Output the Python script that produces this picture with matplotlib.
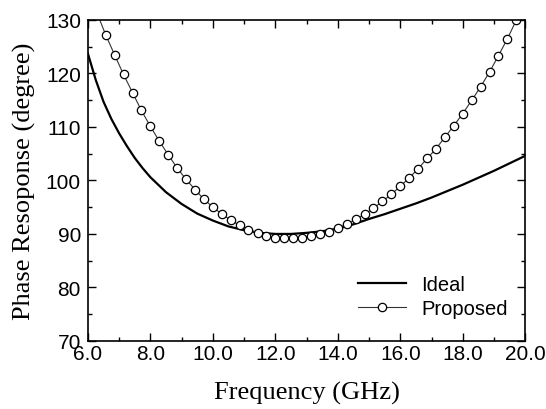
import matplotlib
matplotlib.use("Agg")
import matplotlib.pyplot as plt
from matplotlib.ticker import MultipleLocator, FormatStrFormatter

# ============================================================================
# DATA
# ============================================================================

# Ideal phase response
ideal_freq = [6.0, 6.25, 6.5, 6.75, 7.0, 7.25, 7.5, 7.75, 8.0, 8.5, 9.0, 9.5,
              10.0, 10.5, 11.0, 11.5, 12.0, 12.5, 13.0, 13.5, 14.0, 14.5,
              15.0, 15.5, 16.0, 16.5, 17.0, 17.5, 18.0, 18.5, 19.0, 19.5,
              20.0]
ideal_phase = [123.7, 118.8, 114.7, 111.5, 108.8, 106.4, 104.2, 102.3, 100.6,
               97.8, 95.6, 93.8, 92.5, 91.4, 90.7, 90.2, 90.0, 90.0, 90.2,
               90.5, 91.0, 91.8, 92.8, 93.7, 94.7, 95.7, 96.8, 98.0, 99.2,
               100.5, 101.8, 103.2, 104.6]

# Proposed phase response (markers)
prop_freq = [6.00, 6.29, 6.57, 6.86, 7.14, 7.43, 7.71, 8.00, 8.29, 8.57,
             8.86, 9.14, 9.43, 9.71, 10.00, 10.29, 10.57, 10.86, 11.14, 11.43,
             11.71, 12.00, 12.29, 12.57, 12.86, 13.14, 13.43, 13.71, 14.00,
             14.29, 14.57, 14.86, 15.14, 15.43, 15.71, 16.00, 16.29, 16.57,
             16.86, 17.14, 17.43, 17.71, 18.00, 18.29, 18.57, 18.86, 19.14,
             19.43, 19.71, 20.00]
prop_phase = [135.5, 131.3, 127.2, 123.4, 119.8, 116.4, 113.1, 110.1, 107.3,
              104.8, 102.3, 100.2, 98.3, 96.5, 95.0, 93.7, 92.6, 91.6, 90.8,
              90.2, 89.7, 89.3, 89.2, 89.2, 89.3, 89.6, 90.0, 90.4, 91.1,
              91.8, 92.7, 93.7, 94.8, 96.1, 97.4, 98.9, 100.5, 102.2, 104.1,
              105.9, 108.1, 110.2, 112.5, 115.0, 117.5, 120.3, 123.3, 126.5,
              129.9, 133.5]

series_labels = ["Ideal", "Proposed"]

# ============================================================================
# PLOT
# ============================================================================

SANS = "Liberation Sans"
SERIF = "Liberation Serif"

fig = plt.figure(figsize=(5.46, 4.10), dpi=100)
ax = fig.add_axes([0.161, 0.166, 0.801, 0.783])

ax.plot(ideal_freq, ideal_phase, color="black", linewidth=1.6,
        label=series_labels[0])
ax.plot(prop_freq, prop_phase, color="#333333", linewidth=0.8,
        marker="o", markersize=6, markerfacecolor="white",
        markeredgecolor="black", markeredgewidth=0.9,
        label=series_labels[1])

ax.set_xlim(6, 20)
ax.set_ylim(70, 130)

ax.xaxis.set_major_locator(MultipleLocator(2))
ax.xaxis.set_minor_locator(MultipleLocator(1))
ax.yaxis.set_major_locator(MultipleLocator(10))
ax.yaxis.set_minor_locator(MultipleLocator(5))
ax.xaxis.set_major_formatter(FormatStrFormatter("%.1f"))

ax.tick_params(which="both", direction="in", top=True, right=True,
               width=1.0, labelsize=15)
ax.tick_params(axis="x", pad=2)
ax.tick_params(axis="y", pad=5)
ax.tick_params(which="major", length=6)
ax.tick_params(which="minor", length=3)
for lab in ax.get_xticklabels() + ax.get_yticklabels():
    lab.set_family(SANS)

for sp in ax.spines.values():
    sp.set_linewidth(1.2)

ax.set_xlabel("Frequency (GHz)", family=SERIF, fontsize=19, labelpad=13)
ax.set_ylabel("Phase Resoponse (degree)", family=SERIF, fontsize=19,
              labelpad=7)

leg = ax.legend(loc="lower right", frameon=False, handlelength=2.4,
                prop={"family": SANS, "size": 14.5}, borderaxespad=0,
                labelspacing=0.25, handletextpad=0.75,
                bbox_to_anchor=(0.979, 0.047))

fig.savefig("out.png", dpi=100)
